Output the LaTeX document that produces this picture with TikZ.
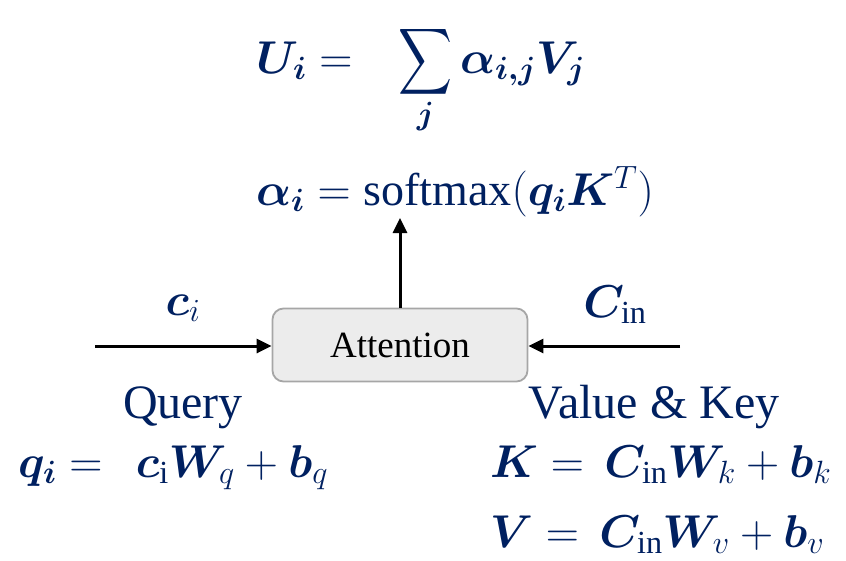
\documentclass[tikz,border=0pt]{standalone}
\usepackage{fix-cm}
\usepackage{graphicx}
\usepackage{amsmath,bm}
\usepackage{fontspec}
\setmainfont{Liberation Serif}
\usetikzlibrary{arrows.meta}
\definecolor{navy}{RGB}{0,32,96}
\definecolor{boxfill}{RGB}{236,236,236}
\definecolor{boxline}{RGB}{166,166,166}
\tikzset{
  eq/.style={text=navy, font=\fontsize{46}{54}\selectfont, inner sep=0pt},
  lbl/.style={text=navy, font=\fontsize{48}{56}\selectfont, inner sep=0pt},
  attbox/.style={draw=boxline, line width=1.8pt, fill=boxfill, rounded corners=11pt,
    minimum width=255pt, minimum height=73pt, font=\fontsize{37}{42}\selectfont, inner sep=0pt},
  conn/.style={line width=3pt, -{Triangle[length=15pt,width=14pt]}}
}
\newcommand{\bigsum}{\mathop{\vcenter{\hbox{\resizebox*{54pt}{74pt}{$\displaystyle\sum$}}}}\limits}
\begin{document}
\begin{tikzpicture}[x=1pt,y=-1pt]
\useasboundingbox (0,0) rectangle (846,560);
\node[eq, anchor=base west] (eqU) at (256,73) {$\bm{U_i} =\;\;\, \bigsum_{\bm{j}} \bm{\alpha_{i,j} V_j}$};
\node[eq, anchor=base west] (eqA) at (256,205) {$\bm{\alpha_i} = \mathrm{softmax}(\bm{q_i K}^{T})$};
\node[attbox] (att) at (400,345) {Attention};
\coordinate (up) at (400,218);
\coordinate (lin) at (95,346);
\coordinate (rin) at (680,346);
\draw[conn] (att.north) -- (up);
\draw[conn] (lin) -- (lin -| att.west);
\draw[conn] (rin) -- (rin -| att.east);
\node[eq, anchor=base] (ci) at (183,315) {$\bm{c}_{i}$};
\node[eq, anchor=base] (cin) at (615,317) {$\bm{C}_{\mathrm{in}}$};
\node[lbl, anchor=base] (query) at (183,418) {Query};
\node[lbl, anchor=base] (vk) at (654,418) {Value \& Key};
\node[eq, anchor=base west] (eqQ) at (18,477) {$\bm{q_i} =\;\, \bm{c}_{\mathrm{i}}\bm{W}_{q} + \bm{b}_{q}$};
\node[eq, anchor=base west] (eqK) at (490,477) {$\bm{K} =\, \bm{C}_{\mathrm{in}}\bm{W}_{k} + \bm{b}_{k}$};
\node[eq, anchor=base west] (eqV) at (490,547) {$\bm{V} =\, \bm{C}_{\mathrm{in}}\bm{W}_{v} + \bm{b}_{v}$};
\end{tikzpicture}
\end{document}
